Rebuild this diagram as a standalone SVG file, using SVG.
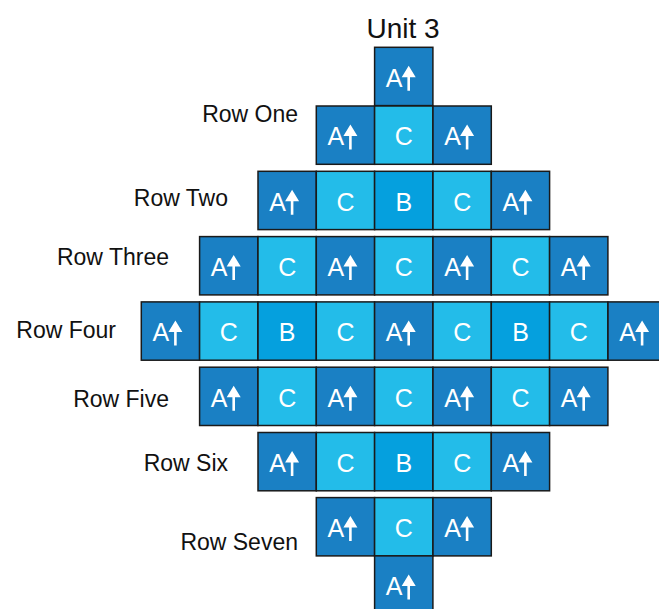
<svg xmlns="http://www.w3.org/2000/svg" xmlns:xlink="http://www.w3.org/1999/xlink" width="659" height="609" viewBox="0 0 659 609">
<style>
.lbl{font-family:"Liberation Sans",Arial,sans-serif;font-size:23px;fill:#111;text-anchor:end}
.ttl{font-family:"Liberation Sans",Arial,sans-serif;font-size:28px;fill:#111;text-anchor:middle}
.cell rect{stroke:#1a1a1a;stroke-width:1.5}
.A rect{fill:#1a80c4}
.C rect{fill:#23bce9}
.B rect{fill:#05a0de}
.cell text{font-family:"Liberation Sans",Arial,sans-serif;font-size:25px;fill:#fff;text-anchor:middle}
.arr{fill:#fff}
</style>
<defs>
<symbol id="ar" overflow="visible">
<path class="arr" d="M6.5,0 L13.5,11.5 L7.8,11.5 L7.8,25 L5.2,25 L5.2,11.5 L-0.5,11.5 Z"/>
</symbol>
</defs>
<text class="ttl" x="403" y="38">Unit 3</text>
<g id="labels">
<text class="lbl" x="298" y="122">Row One</text>
<text class="lbl" x="228" y="206">Row Two</text>
<text class="lbl" x="169" y="265">Row Three</text>
<text class="lbl" x="116" y="338">Row Four</text>
<text class="lbl" x="169" y="407">Row Five</text>
<text class="lbl" x="228" y="471">Row Six</text>
<text class="lbl" x="298" y="550">Row Seven</text>
</g>
<g id="top"><g id="n0" class="cell A" transform="translate(374.6,47.3)"><rect width="58.3" height="58.3"/><text x="19.5" y="39.4">A</text><use xlink:href="#ar" x="27.6" y="18.5"/></g></g>
<g id="row1">
<g id="r1c3" class="cell A" transform="translate(316.3,106)"><rect width="58.3" height="58.3"/><text x="19.5" y="39.4">A</text><use xlink:href="#ar" x="27.6" y="18.5"/></g>
<g id="r1c4" class="cell C" transform="translate(374.6,106)"><rect width="58.3" height="58.3"/><text x="29.2" y="39.4">C</text></g>
<g id="r1c5" class="cell A" transform="translate(433,106)"><rect width="58.3" height="58.3"/><text x="19.5" y="39.4">A</text><use xlink:href="#ar" x="27.6" y="18.5"/></g>
</g>
<g id="row2">
<g id="r2c2" class="cell A" transform="translate(258,171.3)"><rect width="58.3" height="58.3"/><text x="19.5" y="39.4">A</text><use xlink:href="#ar" x="27.6" y="18.5"/></g>
<g id="r2c3" class="cell C" transform="translate(316.3,171.3)"><rect width="58.3" height="58.3"/><text x="29.2" y="39.4">C</text></g>
<g id="r2c4" class="cell B" transform="translate(374.6,171.3)"><rect width="58.3" height="58.3"/><text x="29.2" y="39.4">B</text></g>
<g id="r2c5" class="cell C" transform="translate(433,171.3)"><rect width="58.3" height="58.3"/><text x="29.2" y="39.4">C</text></g>
<g id="r2c6" class="cell A" transform="translate(491.3,171.3)"><rect width="58.3" height="58.3"/><text x="19.5" y="39.4">A</text><use xlink:href="#ar" x="27.6" y="18.5"/></g>
</g>
<g id="row3">
<g id="r3c1" class="cell A" transform="translate(199.6,236.6)"><rect width="58.3" height="58.3"/><text x="19.5" y="39.4">A</text><use xlink:href="#ar" x="27.6" y="18.5"/></g>
<g id="r3c2" class="cell C" transform="translate(258,236.6)"><rect width="58.3" height="58.3"/><text x="29.2" y="39.4">C</text></g>
<g id="r3c3" class="cell A" transform="translate(316.3,236.6)"><rect width="58.3" height="58.3"/><text x="19.5" y="39.4">A</text><use xlink:href="#ar" x="27.6" y="18.5"/></g>
<g id="r3c4" class="cell C" transform="translate(374.6,236.6)"><rect width="58.3" height="58.3"/><text x="29.2" y="39.4">C</text></g>
<g id="r3c5" class="cell A" transform="translate(433,236.6)"><rect width="58.3" height="58.3"/><text x="19.5" y="39.4">A</text><use xlink:href="#ar" x="27.6" y="18.5"/></g>
<g id="r3c6" class="cell C" transform="translate(491.3,236.6)"><rect width="58.3" height="58.3"/><text x="29.2" y="39.4">C</text></g>
<g id="r3c7" class="cell A" transform="translate(549.6,236.6)"><rect width="58.3" height="58.3"/><text x="19.5" y="39.4">A</text><use xlink:href="#ar" x="27.6" y="18.5"/></g>
</g>
<g id="row4">
<g id="r4c0" class="cell A" transform="translate(141.3,301.9)"><rect width="58.3" height="58.3"/><text x="19.5" y="39.4">A</text><use xlink:href="#ar" x="27.6" y="18.5"/></g>
<g id="r4c1" class="cell C" transform="translate(199.6,301.9)"><rect width="58.3" height="58.3"/><text x="29.2" y="39.4">C</text></g>
<g id="r4c2" class="cell B" transform="translate(258,301.9)"><rect width="58.3" height="58.3"/><text x="29.2" y="39.4">B</text></g>
<g id="r4c3" class="cell C" transform="translate(316.3,301.9)"><rect width="58.3" height="58.3"/><text x="29.2" y="39.4">C</text></g>
<g id="r4c4" class="cell A" transform="translate(374.6,301.9)"><rect width="58.3" height="58.3"/><text x="19.5" y="39.4">A</text><use xlink:href="#ar" x="27.6" y="18.5"/></g>
<g id="r4c5" class="cell C" transform="translate(433,301.9)"><rect width="58.3" height="58.3"/><text x="29.2" y="39.4">C</text></g>
<g id="r4c6" class="cell B" transform="translate(491.3,301.9)"><rect width="58.3" height="58.3"/><text x="29.2" y="39.4">B</text></g>
<g id="r4c7" class="cell C" transform="translate(549.6,301.9)"><rect width="58.3" height="58.3"/><text x="29.2" y="39.4">C</text></g>
<g id="r4c8" class="cell A" transform="translate(608,301.9)"><rect width="58.3" height="58.3"/><text x="19.5" y="39.4">A</text><use xlink:href="#ar" x="27.6" y="18.5"/></g>
</g>
<g id="row5">
<g id="r5c1" class="cell A" transform="translate(199.6,367.2)"><rect width="58.3" height="58.3"/><text x="19.5" y="39.4">A</text><use xlink:href="#ar" x="27.6" y="18.5"/></g>
<g id="r5c2" class="cell C" transform="translate(258,367.2)"><rect width="58.3" height="58.3"/><text x="29.2" y="39.4">C</text></g>
<g id="r5c3" class="cell A" transform="translate(316.3,367.2)"><rect width="58.3" height="58.3"/><text x="19.5" y="39.4">A</text><use xlink:href="#ar" x="27.6" y="18.5"/></g>
<g id="r5c4" class="cell C" transform="translate(374.6,367.2)"><rect width="58.3" height="58.3"/><text x="29.2" y="39.4">C</text></g>
<g id="r5c5" class="cell A" transform="translate(433,367.2)"><rect width="58.3" height="58.3"/><text x="19.5" y="39.4">A</text><use xlink:href="#ar" x="27.6" y="18.5"/></g>
<g id="r5c6" class="cell C" transform="translate(491.3,367.2)"><rect width="58.3" height="58.3"/><text x="29.2" y="39.4">C</text></g>
<g id="r5c7" class="cell A" transform="translate(549.6,367.2)"><rect width="58.3" height="58.3"/><text x="19.5" y="39.4">A</text><use xlink:href="#ar" x="27.6" y="18.5"/></g>
</g>
<g id="row6">
<g id="r6c2" class="cell A" transform="translate(258,432.5)"><rect width="58.3" height="58.3"/><text x="19.5" y="39.4">A</text><use xlink:href="#ar" x="27.6" y="18.5"/></g>
<g id="r6c3" class="cell C" transform="translate(316.3,432.5)"><rect width="58.3" height="58.3"/><text x="29.2" y="39.4">C</text></g>
<g id="r6c4" class="cell B" transform="translate(374.6,432.5)"><rect width="58.3" height="58.3"/><text x="29.2" y="39.4">B</text></g>
<g id="r6c5" class="cell C" transform="translate(433,432.5)"><rect width="58.3" height="58.3"/><text x="29.2" y="39.4">C</text></g>
<g id="r6c6" class="cell A" transform="translate(491.3,432.5)"><rect width="58.3" height="58.3"/><text x="19.5" y="39.4">A</text><use xlink:href="#ar" x="27.6" y="18.5"/></g>
</g>
<g id="row7">
<g id="r7c3" class="cell A" transform="translate(316.3,497.6)"><rect width="58.3" height="58.3"/><text x="19.5" y="39.4">A</text><use xlink:href="#ar" x="27.6" y="18.5"/></g>
<g id="r7c4" class="cell C" transform="translate(374.6,497.6)"><rect width="58.3" height="58.3"/><text x="29.2" y="39.4">C</text></g>
<g id="r7c5" class="cell A" transform="translate(433,497.6)"><rect width="58.3" height="58.3"/><text x="19.5" y="39.4">A</text><use xlink:href="#ar" x="27.6" y="18.5"/></g>
</g>
<g id="bottom"><g id="n8" class="cell A" transform="translate(374.6,555.9)"><rect width="58.3" height="58.3"/><text x="19.5" y="39.4">A</text><use xlink:href="#ar" x="27.6" y="18.5"/></g></g>
</svg>
